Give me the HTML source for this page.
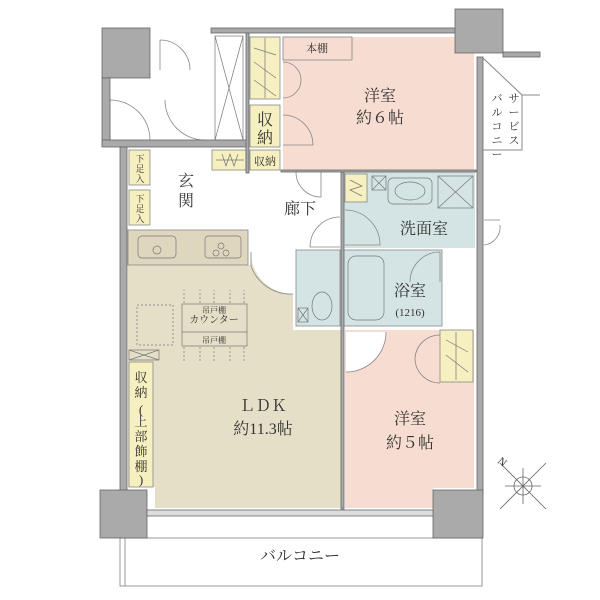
<!DOCTYPE html>
<html><head><meta charset="utf-8"><style>
html,body{margin:0;padding:0;background:#fff}
svg{display:block}
text{font-family:"Liberation Serif","Noto Serif CJK SC","Noto Sans CJK JP",serif;fill:#333}
</style></head><body>
<svg width="600" height="600" viewBox="0 0 600 600" xmlns="http://www.w3.org/2000/svg">
<!-- balcony -->
<rect x="120" y="538" width="362" height="48" fill="#fff" stroke="#999" stroke-width="1"/>
<line x1="125" y1="538" x2="125" y2="586" stroke="#999"/>
<!-- room fills -->
<rect x="283" y="37" width="191" height="133" fill="#f7ddd1"/>
<rect x="283" y="37" width="69" height="23" fill="#f7ddd1" stroke="#888" stroke-width="0.8"/>
<rect x="343" y="172" width="132" height="76" fill="#d4e4e4"/>
<rect x="343" y="250" width="99" height="76" fill="#d4e4e4" stroke="#888" stroke-width="0.8"/>
<rect x="296" y="250" width="44" height="76" fill="#d4e4e4" stroke="#888" stroke-width="0.8"/>
<polygon points="345,330 474,330 474,488 433,488 433,508 345,508" fill="#f7ddd1"/>
<polygon points="128,265 251,265 251,252 293,252 293,330 341,330 341,508 155,508 155,487 128,487" fill="#e6dfc8"/>
<rect x="128" y="230" width="120" height="35" fill="#dfd7bd" stroke="#888" stroke-width="0.8"/>
<!-- white door arcs -->
<path d="M293,252 L251,252 A42,42 0 0 0 293,294 Z" fill="#fff"/>
<path d="M251,252 V266 M251,266 A42,42 0 0 0 293,294" fill="none" stroke="#888" stroke-width="0.8"/>
<path d="M346,332 L386,332 A40,40 0 0 1 346,372 Z" fill="#fff"/>
<path d="M386,332 A40,40 0 0 1 346,372" fill="none" stroke="#888" stroke-width="0.8"/>
<!-- yellow closets -->
<g fill="#f6efbf" stroke="#888" stroke-width="0.8">
<rect x="250" y="37" width="30" height="62"/>
<rect x="250" y="105" width="30" height="42"/>
<rect x="250" y="150" width="30" height="20"/>
<rect x="212" y="150" width="34" height="20"/>
<rect x="129" y="150" width="21" height="35"/>
<rect x="129" y="190" width="21" height="35"/>
<rect x="345" y="174" width="22" height="28"/>
<rect x="440" y="330" width="33" height="52"/>
<rect x="129" y="362" width="24" height="125"/>
</g>
<g stroke="#777" stroke-width="0.7" fill="none">
<path d="M254,48 L276,55 M254,62 L276,78 M254,80 L276,96 M265,38 V98"/>
<path d="M446,340 L468,352 M446,355 L468,372 M456,332 V380"/>
<path d="M216,160 H244 M222,154 L226,166 L230,154 L234,166 L238,154"/>
<path d="M350,180 L362,186 L350,190 L362,196"/>
<rect x="215" y="36" width="28" height="104"/>
<path d="M215,36 L243,140 M243,36 L215,140"/>
<rect x="372" y="176" width="14" height="14"/><path d="M372,176 L386,190 M386,176 L372,190"/>
<rect x="438" y="176" width="35" height="32"/><path d="M438,176 L473,208 M473,176 L438,208"/>
<rect x="298" y="308" width="10" height="14"/><path d="M298,308 L308,322 M308,308 L298,322"/>
<rect x="129" y="350" width="30" height="10"/><path d="M129,350 L159,360 M159,350 L129,360"/>
<rect x="388" y="178" width="44" height="26" rx="5"/><ellipse cx="410" cy="191" rx="15" ry="9"/>
<rect x="138" y="236" width="38" height="22" rx="4"/><circle cx="157" cy="250" r="4"/>
<rect x="205" y="236" width="36" height="22" rx="3"/><circle cx="216" cy="253" r="3"/><circle cx="226" cy="253" r="3"/><circle cx="221" cy="246" r="3"/>
<rect x="348" y="256" width="36" height="64" rx="8"/>
<ellipse cx="322" cy="306" rx="10" ry="14"/>
<rect x="182" y="304" width="65" height="42" fill="#e6dfc8"/>
<path d="M182,332 H247"/>
<rect x="137" y="305" width="36" height="40" stroke-dasharray="2,2"/>
<path d="M184,303 V290 M200,303 V290 M214,303 V290 M230,303 V290 M244,303 V290 M184,347 V363 M200,347 V363 M214,347 V363 M230,347 V363 M244,347 V363" stroke-dasharray="2,2"/>
</g>
<!-- misc door arcs -->
<g stroke="#888" stroke-width="0.8" fill="none">
<path d="M283,62 A18,18 0 0 1 283,98 M283,115 A30,30 0 0 1 313,145 L283,145"/>
<path d="M110,100 A40,40 0 0 1 150,140 M110,100 V140"/>
<path d="M165,100 A40,40 0 0 0 205,140"/>
<path d="M160,40 A30,30 0 0 1 190,70 M160,40 V70"/>
<path d="M296,172 A25,25 0 0 0 321,197 L321,172"/>
<path d="M340,217 A30,30 0 0 0 310,247 L340,247"/>
<path d="M345,210 A35,35 0 0 1 380,245 L345,245"/>
<path d="M440,252 A30,30 0 0 0 410,282 M440,252 V282"/>
<path d="M440,383 A25,25 0 0 1 415,358 M440,335 A25,25 0 0 0 415,358"/>
<path d="M484,220 H500 M484,245 A18,18 0 0 0 500,225"/>
</g>
<!-- walls -->
<g fill="#aaa" stroke="#666" stroke-width="0.8">
<rect x="211" y="28" width="245" height="5"/>
<rect x="455" y="9" width="48" height="44"/>
<rect x="503" y="52" width="37" height="5"/>
<rect x="102" y="28" width="48" height="50"/>
<rect x="102" y="78" width="8" height="68"/>
<rect x="102" y="140" width="145" height="7"/>
<rect x="120" y="147" width="7" height="345"/>
<rect x="477" y="57" width="6" height="438"/>
<rect x="100" y="490" width="47" height="48"/>
<rect x="433" y="490" width="50" height="48"/>
<rect x="147" y="510" width="286" height="6" fill="#ddd"/>
<rect x="246" y="33" width="3" height="140"/>
<rect x="341" y="172" width="3" height="337"/>
<rect x="281" y="170" width="195" height="2"/>
</g>
<!-- service balcony -->
<path d="M483,58 L522,95 V150 H483" fill="none" stroke="#888"/>
<path d="M522,95 H540" stroke="#888"/>
<!-- compass -->
<g stroke="#666" stroke-width="0.8" fill="none">
<circle cx="523" cy="486" r="9"/>
<path d="M500,463 L546,509 M546,463 L500,509 M523,468 V504 M505,486 H541"/>
</g>
<text x="497" y="462" font-size="11" transform="rotate(40 497 462)">N</text>
<!-- labels -->
<g font-size="16" text-anchor="middle">
<text x="380" y="101">洋室</text><text x="380" y="123">約６帖</text>
<text x="300" y="214">廊下</text>
<text x="424" y="234">洗面室</text>
<text x="410" y="296">浴室</text>
<text x="263" y="411">ＬＤＫ</text><text x="263" y="434">約11.3帖</text>
<text x="410" y="424">洋室</text><text x="410" y="448">約５帖</text>
<text x="300" y="561">バルコニー</text>
<text x="186" y="186">玄</text><text x="186" y="206">関</text>
<text x="265" y="125">収</text><text x="265" y="143">納</text>
</g>
<g font-size="11" text-anchor="middle">
<text x="317" y="52">本棚</text>
<text x="265" y="165">収納</text>
<text x="410" y="316">(1216)</text>
<text x="214" y="323" font-size="10">カウンター</text>
<text x="214" y="313" font-size="8">吊戸棚</text><text x="214" y="343" font-size="8">吊戸棚</text>
<text x="140" y="162" font-size="9">下</text><text x="140" y="172" font-size="9">足</text><text x="140" y="182" font-size="9">入</text>
<text x="140" y="202" font-size="9">下</text><text x="140" y="212" font-size="9">足</text><text x="140" y="222" font-size="9">入</text>
<text x="514" y="102">サ</text><text x="514" y="116">ー</text><text x="514" y="130">ビ</text><text x="514" y="144">ス</text>
<text x="497" y="102">バ</text><text x="497" y="116">ル</text><text x="497" y="130">コ</text><text x="497" y="144">ニ</text><text x="497" y="158">ー</text>
<text x="141" y="382" font-size="13">収</text><text x="141" y="397" font-size="13">納</text>
<text x="141" y="414" font-size="13">(</text><text x="141" y="426" font-size="13">上</text><text x="141" y="441" font-size="13">部</text><text x="141" y="456" font-size="13">飾</text><text x="141" y="471" font-size="13">棚</text><text x="141" y="484" font-size="13">)</text>
</g>
</svg>
</body></html>
